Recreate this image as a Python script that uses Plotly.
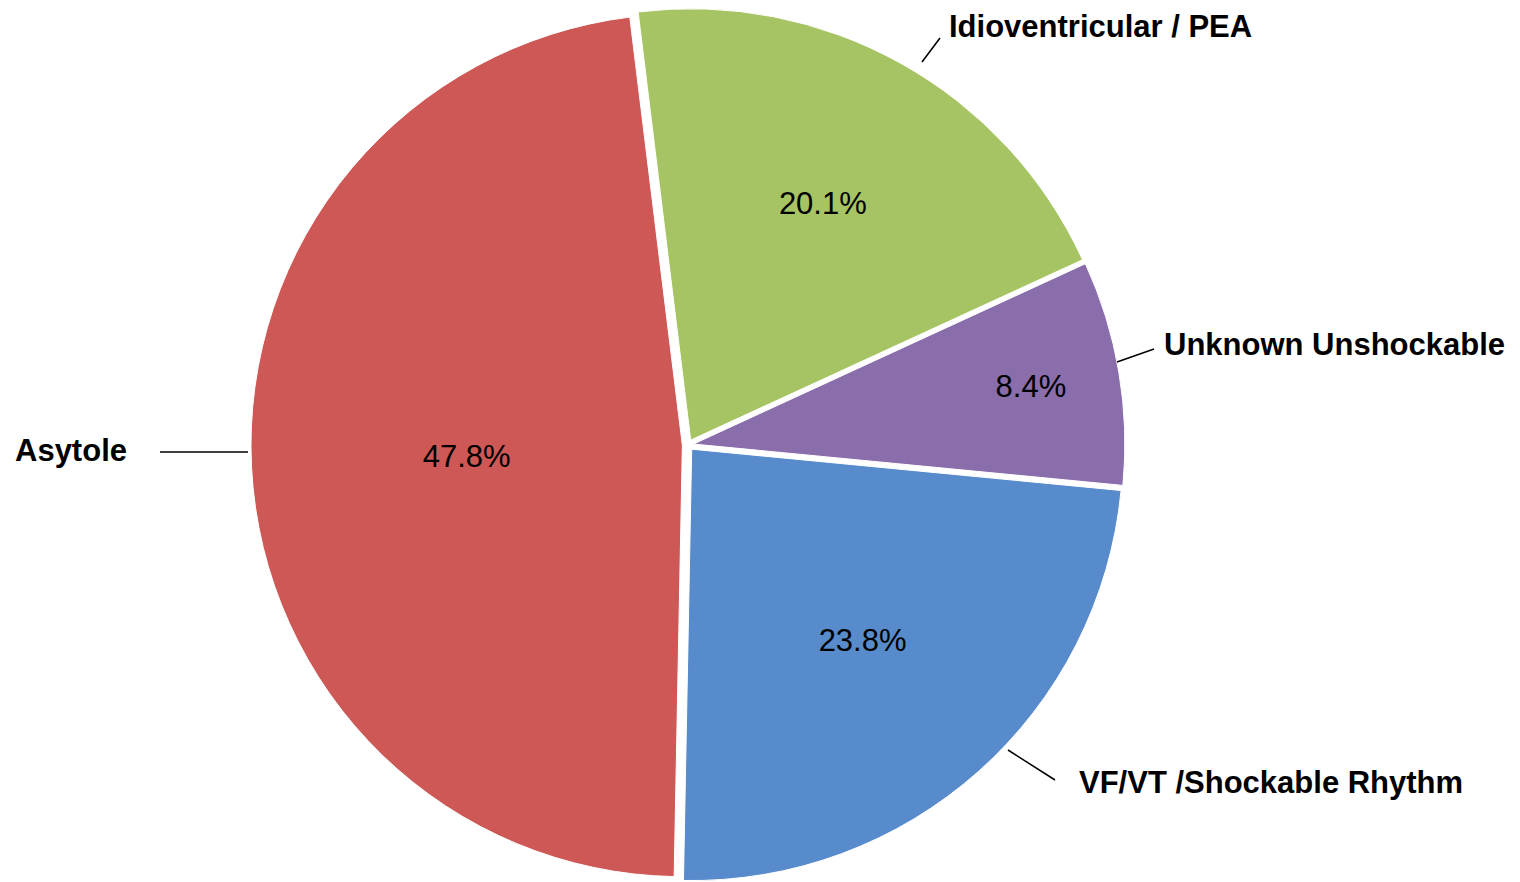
import plotly.graph_objects as go

# slices, clockwise from just left of 12 o'clock
labels = ['Idioventricular / PEA', 'Unknown Unshockable', 'VF/VT /Shockable Rhythm', 'Asytole']
values = [20.1, 8.4, 23.8, 47.8]
colors = ['#A6C463', '#8A6DAB', '#588BCB', '#CD5856']

OFF = 8  # page body margin shifts the figure by this much
W, H = 1520 - 2 * OFF, 882 - OFF

def px(x, y):
    return (x - OFF) / W, 1 - (y - OFF) / H

fig = go.Figure(go.Pie(
    labels=labels,
    values=values,
    sort=False,
    direction='clockwise',
    rotation=-7,
    pull=[0.013] * 4,
    marker={'colors': colors, 'line': {'color': 'white', 'width': 1}},
    texttemplate='%{value:.1f}%',
    textposition='inside',
    insidetextorientation='horizontal',
    textfont={'family': 'Liberation Sans, Arial', 'size': 31, 'color': 'black'},
    domain={'x': [0.1521, 0.7521], 'y': [0, 1]},
    showlegend=False,
    hoverinfo='label+percent',
))

# outside labels with leader lines (Excel style)
outside = [
    # label, text left/center-y, line start, line end
    ('Idioventricular / PEA', (947, 27), (922, 62), (940, 38)),
    ('Unknown Unshockable', (1162, 344), (1117, 362), (1154, 349)),
    ('VF/VT /Shockable Rhythm', (1077, 782), (1008, 750), (1055, 780)),
    ('Asytole', (13, 450), (160, 452), (248, 452)),
]
for text, (tx, ty), (x0, y0), (x1, y1) in outside:
    ax, ay = px(tx, ty)
    fig.add_annotation(x=ax, y=ay, xref='paper', yref='paper', text=f'<b>{text}</b>',
                       showarrow=False, xanchor='left', yanchor='middle',
                       font={'family': 'Liberation Sans, Arial', 'size': 31, 'color': 'black'})
    a0, b0 = px(x0, y0)
    a1, b1 = px(x1, y1)
    fig.add_shape(type='line', xref='paper', yref='paper', x0=a0, y0=b0, x1=a1, y1=b1,
                  line={'color': 'black', 'width': 1.5})

fig.update_layout(width=W, height=H, margin={'l': 0, 'r': 0, 't': 0, 'b': 0},
                  paper_bgcolor='white', plot_bgcolor='white')
fig.write_html('out.html')
